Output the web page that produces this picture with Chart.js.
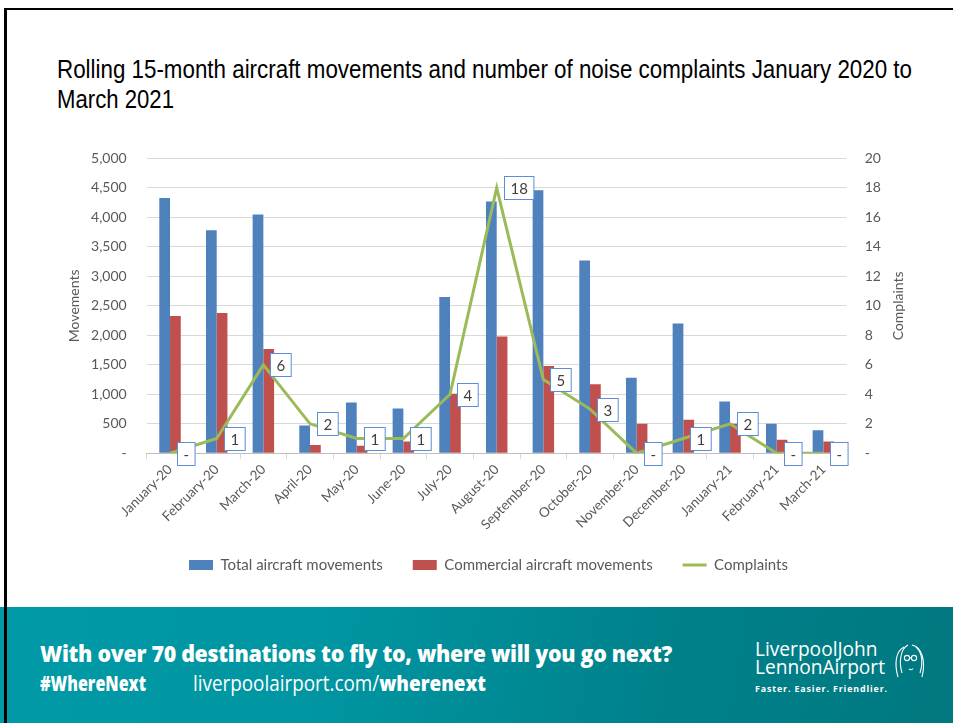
<!DOCTYPE html>
<html>
<head>
<meta charset="utf-8">
<script src="https://cdn.jsdelivr.net/npm/chart.js@4.4.1/dist/chart.umd.min.js"></script>
<style>
  html, body { margin:0; padding:0; width:953px; height:723px; overflow:hidden; background:#fff; }
  #frameTop { position:absolute; left:4px; top:8px; width:949px; height:2px; background:#000; }
  #frameLeft { position:absolute; left:4px; top:8px; width:3px; height:715px; background:#000; z-index:5; }
  #title { position:absolute; left:57px; top:54px; font-family:"Liberation Sans", Arial, sans-serif; font-size:25px; line-height:30px; color:#000; white-space:nowrap; }
  #title div { transform-origin:0 0; display:inline-block; }
  #chartWrap { position:absolute; left:0; top:130px; width:953px; height:500px; }
  #footer { position:absolute; left:0; top:607px; width:953px; height:116px;
    background:linear-gradient(100deg, #009AA6 0%, #0095A1 35%, #00818A 70%, #007880 100%); color:#fff; }
  .ft { position:absolute; white-space:nowrap; transform-origin:0 50%; font-family:"Open Sans", "Liberation Sans", sans-serif; }
  #ft1 { left:40px; top:30px; font-size:23px; font-weight:800; letter-spacing:-0.3px; }
  #ft2 { left:40px; top:62px; font-size:21px; font-weight:800; }
  #ft3 { left:193px; top:62px; font-size:21px; }
  #ft3 b { font-weight:800; }
  #logo1 { left:755px; top:33px; font-size:20px; line-height:18px; font-weight:400; }
  #logo2 { left:755px; top:75px; font-size:9px; font-weight:700; letter-spacing:0.9px; }
  #icon { position:absolute; left:890px; top:36px; }
</style>
</head>
<body>
<div id="frameTop"></div>
<div id="frameLeft"></div>
<div id="title"><div id="t1">Rolling 15-month aircraft movements and number of noise complaints January 2020 to</div><br><div id="t2">March 2021</div></div>
<div id="chartWrap"><canvas id="c" width="953" height="500"></canvas></div>
<div id="footer">
  <div class="ft" id="ft1">With over 70 destinations to fly to, where will you go next?</div>
  <div class="ft" id="ft2">#WhereNext</div>
  <div class="ft" id="ft3">liverpoolairport.com/<b>wherenext</b></div>
  <div class="ft" id="logo1">LiverpoolJohn<br>LennonAirport</div>
  <div class="ft" id="logo2">Faster. Easier. Friendlier.</div>
  <svg id="icon" width="40" height="38" viewBox="0 0 40 38" fill="none" stroke="#fff" stroke-width="1.1">
    <path d="M14 4 C6 8 4 20 8 34"/>
    <path d="M18 2 C10 6 9 20 12 30"/>
    <path d="M22 2 C32 4 36 18 32 34"/>
    <path d="M26 4 C33 10 33 22 30 30"/>
    <circle cx="17" cy="15" r="2.6"/>
    <circle cx="24" cy="15" r="2.6"/>
    <path d="M19.6 15 L21.4 15"/>
    <path d="M19 26 C20.5 27 22 27 23 25.5"/>
  </svg>
</div>
<script>
// ---- data ----
const categories = ['January-20','February-20','March-20','April-20','May-20','June-20','July-20','August-20','September-20','October-20','November-20','December-20','January-21','February-21','March-21'];
const totalMovements = [4330, 3780, 4050, 470, 860, 760, 2650, 4270, 4460, 3270, 1280, 2200, 880, 500, 390];
const commercialMovements = [2330, 2380, 1770, 140, 130, 200, 1010, 1980, 1480, 1170, 500, 570, 500, 230, 200];
const complaints = [0, 1, 6, 2, 1, 1, 4, 18, 5, 3, 0, 1, 2, 0, 0];
const seriesNames = ['Total aircraft movements', 'Commercial aircraft movements', 'Complaints'];
const axisTitles = ['Movements', 'Complaints'];

// fit text lines to the widths seen in the reference
function fitWidth(id, target) {
  const el = document.getElementById(id);
  const w = el.getBoundingClientRect().width;
  if (w > 0) el.style.transform = 'scaleX(' + (target / w) + ')';
}
fitWidth('t1', 855);
fitWidth('t2', 117);
fitWidth('ft1', 632);
fitWidth('ft2', 106);
fitWidth('ft3', 293);
fitWidth('logo1', 130);
fitWidth('logo2', 133);

const FONT = 'Lato, "Open Sans", sans-serif';
const GREY = '#595959';
const LEGEND_PAD = 30, LEGEND_FONT = 15;

const labelPlugin = {
  id: 'complaintLabels',
  afterDatasetsDraw(chart) {
    const meta = chart.getDatasetMeta(2);
    const ctx = chart.ctx;
    ctx.save();
    ctx.font = '15px ' + FONT;
    ctx.textBaseline = 'middle';
    ctx.textAlign = 'center';
    meta.data.forEach((pt, i) => {
      const v = complaints[i];
      const txt = v === 0 ? '-' : String(v);
      const tw = ctx.measureText(txt).width;
      const w = Math.max(tw + 12, 17), h = 23;
      const x0 = Math.round(pt.x + 7) + 0.5, y0 = Math.round(pt.y - h / 2) + 0.5;
      ctx.fillStyle = '#fff';
      ctx.fillRect(x0, y0, w, h);
      ctx.strokeStyle = '#5B8ED6';
      ctx.lineWidth = 1;
      ctx.strokeRect(x0, y0, w, h);
      ctx.fillStyle = '#404040';
      ctx.fillText(txt, x0 + w / 2, y0 + h / 2 + 1);
    });
    ctx.restore();
  }
};

const rightTitlePlugin = {
  id: 'rightTitle',
  afterDraw(chart) {
    const s = chart.scales.y1;
    const ca = chart.chartArea;
    const ctx = chart.ctx;
    ctx.save();
    ctx.font = '14px ' + FONT;
    ctx.fillStyle = GREY;
    ctx.textAlign = 'center';
    ctx.textBaseline = 'middle';
    ctx.translate(s.right - 55, (ca.top + ca.bottom) / 2);
    ctx.rotate(-Math.PI / 2);
    ctx.fillText(axisTitles[1], 0, 0);
    ctx.restore();
  }
};

// move the legend row up next to the rotated labels (Excel places it closer)
const legendShift = {
  id: 'legendShift',
  afterLayout(chart) {
    const l = chart.legend;
    const dy = -20.8, dx = 12;
    l.top += dy; l.bottom += dy;
    l.left += dx; l.right += dx;
  }
};

const dashZero = v => v === 0 ? '-' : Number(v).toLocaleString('en-US');

new Chart(document.getElementById('c'), {
  type: 'bar',
  data: {
    labels: categories,
    datasets: [
      { label: seriesNames[0], data: totalMovements, backgroundColor: '#4F81BD', yAxisID: 'y', order: 2, categoryPercentage: 0.46, barPercentage: 1.0 },
      { label: seriesNames[1], data: commercialMovements, backgroundColor: '#C0504D', yAxisID: 'y', order: 2, categoryPercentage: 0.46, barPercentage: 1.0 },
      { type: 'line', label: seriesNames[2], data: complaints, borderColor: '#9BBB59', backgroundColor: '#9BBB59', borderWidth: 3, pointRadius: 0, tension: 0, yAxisID: 'y1', order: 1 }
    ]
  },
  options: {
    responsive: false,
    animation: false,
    devicePixelRatio: 1,
    layout: { padding: { top: 26.7, bottom: 26.7, left: 0, right: 0 } },
    plugins: {
      tooltip: { enabled: false },
      legend: {
        position: 'bottom',
        labels: {
          usePointStyle: true,
          pointStyleWidth: 24,
          boxHeight: 10,
          padding: LEGEND_PAD,
          color: GREY,
          font: { family: FONT, size: LEGEND_FONT },
          generateLabels(chart) {
            const items = Chart.defaults.plugins.legend.labels.generateLabels(chart);
            items.sort((a, b) => a.datasetIndex - b.datasetIndex);
            items.forEach(it => {
              const ds = chart.data.datasets[it.datasetIndex];
              if (ds.type === 'line') {
                it.pointStyle = 'line'; it.lineWidth = 3; it.strokeStyle = ds.borderColor; it.fillStyle = ds.borderColor;
              } else {
                it.pointStyle = 'rect'; it.lineWidth = 0; it.fillStyle = ds.backgroundColor; it.strokeStyle = ds.backgroundColor;
              }
            });
            return items;
          }
        }
      }
    },
    scales: {
      x: {
        grid: { offset: true, drawOnChartArea: false, drawTicks: true, tickLength: 6, color: '#D9D9D9' },
        border: { display: true, color: '#BFBFBF' },
        ticks: { autoSkip: false, maxRotation: 45, minRotation: 45, padding: 2, color: GREY, font: { family: FONT, size: 13.5 } },
        afterFit(s) { s.height = 95; }
      },
      y: {
        position: 'left',
        min: 0, max: 5000,
        ticks: { stepSize: 500, padding: 20, color: GREY, font: { family: FONT, size: 14 }, callback: dashZero },
        grid: { color: '#D9D9D9', drawTicks: false },
        border: { display: false },
        title: { display: true, text: axisTitles[0], color: GREY, font: { family: FONT, size: 14 }, padding: { top: 66, bottom: 0 } },
        afterFit(s) { s.width = 146.7; }
      },
      y1: {
        position: 'right',
        min: 0, max: 20,
        ticks: { stepSize: 2, padding: 18, color: GREY, font: { family: FONT, size: 14 }, callback: dashZero },
        grid: { drawOnChartArea: false, drawTicks: false },
        border: { display: false },
        afterFit(s) { s.width = 106.3; }
      }
    }
  },
  plugins: [labelPlugin, rightTitlePlugin, legendShift]
});
</script>
</body>
</html>
